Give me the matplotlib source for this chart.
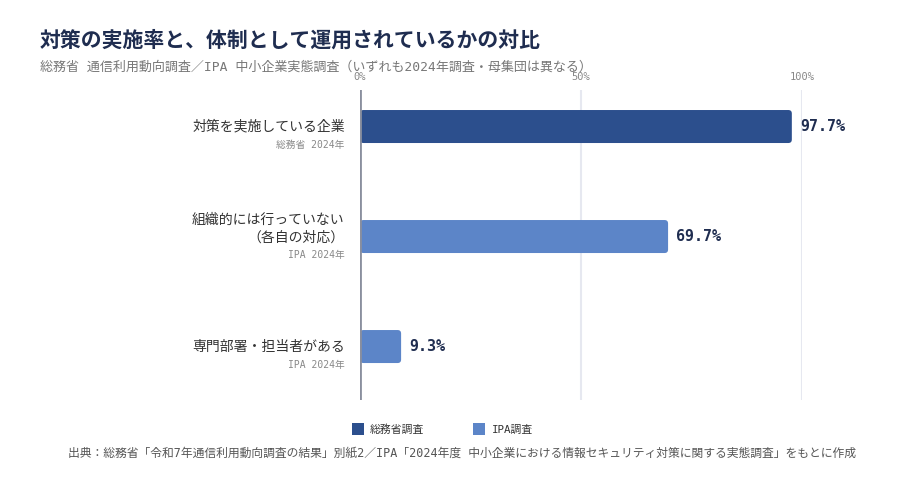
import matplotlib
matplotlib.use("Agg")
import matplotlib.pyplot as plt
from matplotlib.patches import FancyBboxPatch, Patch

JP = ['Noto Sans CJK JP', 'DejaVu Sans']
MONO = ['DejaVu Sans Mono', 'Noto Sans CJK JP', 'DejaVu Sans']
plt.rcParams['font.family'] = MONO

# ---- data ----
categories = ["対策を実施している企業", "組織的には行っていない\n（各自の対応）", "専門部署・担当者がある"]
sources = ["総務省 2024年", "IPA 2024年", "IPA 2024年"]
series = ["総務省調査", "IPA調査", "IPA調査"]
values = [97.7, 69.7, 9.3]
xticks = [0, 50, 100]
xtick_labels = ["0%", "50%", "100%"]
legend_names = ["総務省調査", "IPA調査"]

title = "対策の実施率と、体制として運用されているかの対比"
subtitle = "総務省 通信利用動向調査／IPA 中小企業実態調査（いずれも2024年調査・母集団は異なる）"
footer = "出典：総務省「令和7年通信利用動向調査の結果」別紙2／IPA「2024年度 中小企業における情報セキュリティ対策に関する実態調査」をもとに作成"

colors = {"総務省調査": "#2c4f8d", "IPA調査": "#5c85c8"}
navy = "#1f2d50"

W, H = 900, 480
fig = plt.figure(figsize=(9, 4.8), dpi=100)
fig.patch.set_facecolor("white")

ax = fig.add_axes([360 / W, 1 - 400 / H, 442 / W, 310 / H])
ax.set_xlim(0, 100)
pos = list(range(len(categories)))
ax.set_ylim(2.486, -0.332)
ax.axis("off")

for t in xticks[1:]:
    ax.axvline(t, color="#e6e8f0", lw=1.5, zorder=0)
ax.axvline(0, color="#8a8f9e", lw=2, zorder=3)

bar_h = 0.30
bars = ax.barh(pos, values, height=bar_h, color=[colors[s] for s in series])
px_per_x = 442 / 100
px_per_y = 110
for b, s in zip(bars, series):
    x, y, w, h = b.get_x(), b.get_y(), b.get_width(), b.get_height()
    b.set_visible(False)
    r = 3.5 / px_per_x
    p = FancyBboxPatch((x, y), w, h,
                       boxstyle=f"round,pad=0,rounding_size={r}",
                       mutation_aspect=px_per_x / px_per_y,
                       facecolor=colors[s], edgecolor="none", zorder=2)
    ax.add_patch(p)
    ax.annotate(f"{w:.1f}%", xy=(x + w, y + h / 2), xytext=(6, 0),
                textcoords="offset points", va="center", ha="left",
                fontsize=10.8, fontweight="bold", color=navy)

for t, lab in zip(xticks, xtick_labels):
    ax.annotate(lab, xy=(t, -0.332), xytext=(0, 9), textcoords="offset points",
                ha="center", va="center", fontsize=7.5, color="#888888",
                annotation_clip=False)

for p_, cat, src in zip(pos, categories, sources):
    nlines = cat.count("\n") + 1
    yc = p_ if nlines == 1 else p_ - 0.07
    ax.annotate(cat, xy=(0, yc), xytext=(-11, 0), textcoords="offset points",
                ha="right", va="center", fontsize=10, color="#333333",
                linespacing=1.3, annotation_clip=False, family=JP)
    ax.annotate(src, xy=(0, p_ + 0.165), xytext=(-11, 0), textcoords="offset points",
                ha="right", va="center", fontsize=7, color="#888888",
                annotation_clip=False)

fig.text(40 / W, 1 - 40 / H, title, fontsize=15, fontweight="bold", color=navy,
         ha="left", va="center", family=JP)
fig.text(40 / W, 1 - 67 / H, subtitle, fontsize=9.4, color="#777777",
         ha="left", va="center")

handles = [Patch(facecolor=colors[n], edgecolor="none", label=n) for n in legend_names]
fig.legend(handles=handles, loc="center left", bbox_to_anchor=(342 / W, 1 - 429 / H),
           ncol=2, frameon=False, fontsize=7.8, handlelength=1.1, handleheight=1.2,
           handletextpad=0.6, columnspacing=4.5, labelcolor="#333333")

fig.text(68 / W, 1 - 453 / H, footer, fontsize=8.5, color="#555555", ha="left", va="center")

fig.savefig("out.png", dpi=100, facecolor="white")
